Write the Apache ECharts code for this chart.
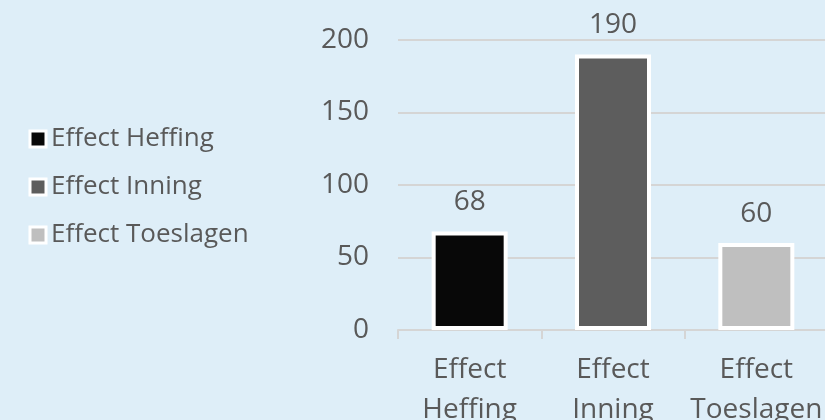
<!DOCTYPE html>
<html>
<head>
<meta charset="utf-8">
<script src="https://cdn.jsdelivr.net/npm/echarts@6/dist/echarts.min.js"></script>
<style>
  html, body { margin: 0; padding: 0; background: #DEEEF8; }
  #chart { width: 825px; height: 420px; }
</style>
</head>
<body>
<div id="chart"></div>
<script>
// data
const categories = ['Effect\nHeffing', 'Effect\nInning', 'Effect\nToeslagen']
const seriesNames = ['Effect Heffing', 'Effect Inning', 'Effect Toeslagen']
const values = [68, 190, 60]
const colors = ['#080808', '#5D5D5D', '#BFBFBF']
const yTicks = [0, 50, 100, 150, 200]

const textColor = '#595959'
const font = 'Open Sans'

const chart = echarts.init(document.getElementById('chart'))

// one series per category so the legend lists each bar
const series = seriesNames.map((name, i) => ({
  name: name,
  type: 'bar',
  stack: 'total',
  barWidth: 76,
  data: values.map((v, j) => (j === i ? v : '-')),
  itemStyle: { color: colors[i], borderColor: '#FFFFFF', borderWidth: 4 },
  label: {
    show: true,
    position: 'top',
    distance: 15,
    color: textColor,
    fontFamily: font,
    fontSize: 28
  }
}))

chart.setOption({
  backgroundColor: '#DEEEF8',
  animation: false,
  legend: {
    orient: 'vertical',
    left: 28.5,
    top: 126,
    padding: 0,
    itemGap: 22,
    icon: 'rect',
    itemWidth: 16,
    itemHeight: 16,
    itemStyle: { borderColor: '#FFFFFF', borderWidth: 3 },
    textStyle: { color: textColor, fontFamily: font, fontSize: 26, padding: [0, 0, 0, 0] },
    data: seriesNames
  },
  grid: { left: 398, right: -3, top: 40, bottom: 90, outerBoundsMode: 'none', containLabel: false },
  xAxis: {
    type: 'category',
    data: categories,
    axisLine: { lineStyle: { color: '#D5D5D5', width: 2 } },
    axisTick: { show: true, length: 9, lineStyle: { color: '#D5D5D5', width: 2 } },
    axisLabel: { interval: 0, color: textColor, fontFamily: font, fontSize: 28, lineHeight: 40, margin: 20 }
  },
  yAxis: {
    type: 'value',
    min: yTicks[0],
    max: yTicks[yTicks.length - 1],
    interval: 50,
    axisLine: { show: false },
    axisTick: { show: false },
    splitLine: { lineStyle: { color: '#D5D5D5', width: 2 } },
    axisLabel: { color: textColor, fontFamily: font, fontSize: 28, margin: 29 }
  },
  series: series
})
</script>
</body>
</html>
